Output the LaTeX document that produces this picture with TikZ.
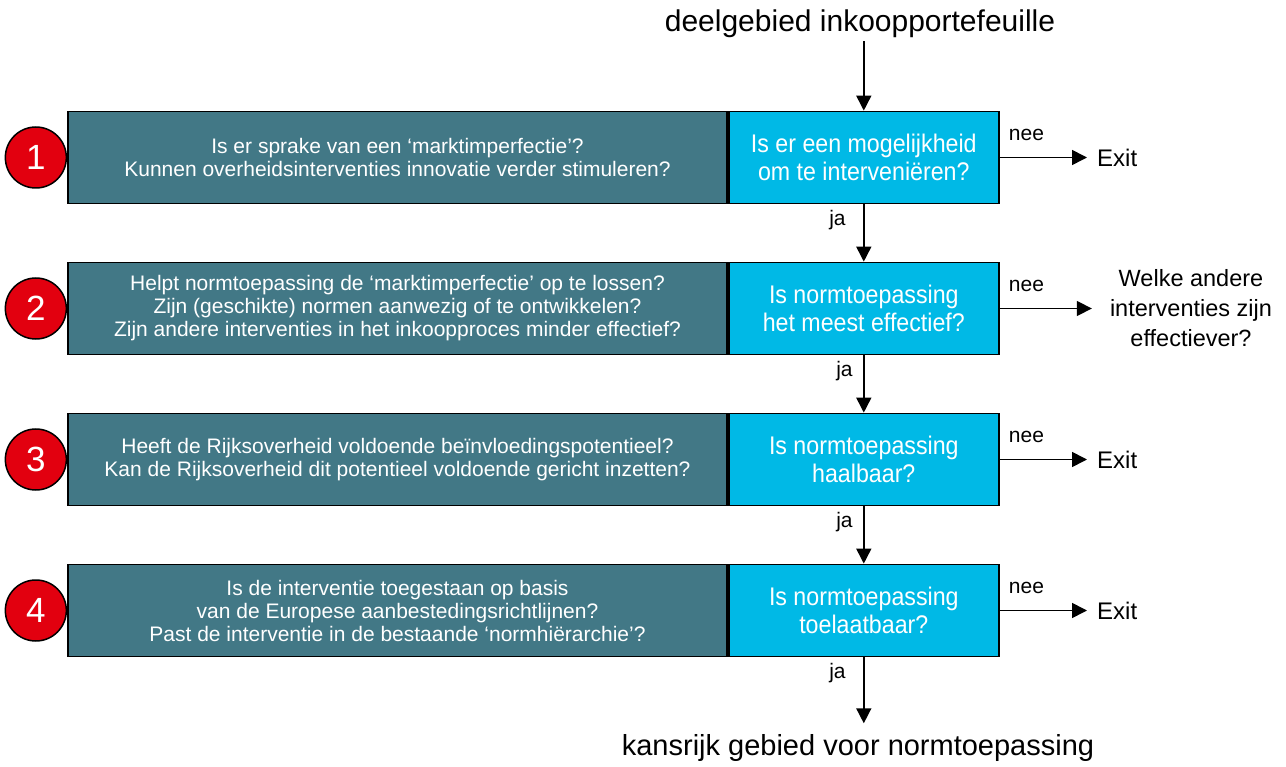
\documentclass[tikz,border=0pt]{standalone}
\usepackage{fontspec}
\setmainfont{Liberation Sans}
\newfontfamily\smalfont{Liberation Sans}[FakeStretch=0.91]
\usetikzlibrary{arrows.meta, positioning}
\definecolor{vraagkleur}{HTML}{427886}
\definecolor{keuzekleur}{HTML}{00B9E6}
\definecolor{stapkleur}{HTML}{E2000F}

\begin{document}
\begin{tikzpicture}[x=1pt, y=-1pt]
\tikzset{
  vraag/.style={draw=black, line width=1.8pt, fill=vraagkleur, text=white, minimum width=659pt, minimum height=92pt, inner sep=0pt, align=center, font=\fontsize{21}{23}\selectfont},
  keuze/.style={draw=black, line width=1.8pt, fill=keuzekleur, text=white, minimum width=270pt, minimum height=92pt, inner sep=0pt, align=center, font=\smalfont\fontsize{25.5}{28}\selectfont},
  stap/.style={circle, draw=black, line width=1.5pt, fill=stapkleur, minimum size=61pt, inner sep=0pt, text=white, font=\fontsize{35}{35}\selectfont},
  pijl/.style={line width=1.6pt, -{Triangle[length=15pt, width=15pt]}},
  keus/.style={inner sep=0pt, font=\fontsize{21}{21}\selectfont},
  uitgang/.style={inner sep=0pt, font=\fontsize{24}{24}\selectfont}
}
\useasboundingbox (0,0) rectangle (1286,767);

\node[inner sep=0pt, font=\fontsize{30}{30}\selectfont] (begin) at (860,24) {deelgebied inkoopportefeuille};

% stap 1
\node[vraag] (v1) at (397.5,157.5) {Is er sprake van een ‘marktimperfectie’?\\Kunnen overheidsinterventies innovatie verder stimuleren?};
\node[keuze, right=0pt of v1] (k1) {Is er een mogelijkheid\\om te interveniëren?};
\node[stap, left=0pt of v1] (s1) {1};
\node[uitgang, anchor=west] (exit1) at (1097,158) {Exit};

% stap 2
\node[vraag] (v2) at (397.5,308.5) {Helpt normtoepassing de ‘marktimperfectie’ op te lossen?\\Zijn (geschikte) normen aanwezig of te ontwikkelen?\\Zijn andere interventies in het inkoopproces minder effectief?};
\node[keuze, right=0pt of v2] (k2) {Is normtoepassing\\het meest effectief?};
\node[stap, left=0pt of v2] (s2) {2};
\node[inner sep=0pt, align=center, font=\fontsize{23.5}{30}\selectfont] (anders) at (1191,308) {Welke andere\\interventies zijn\\effectiever?};

% stap 3
\node[vraag] (v3) at (397.5,459.5) {Heeft de Rijksoverheid voldoende beïnvloedingspotentieel?\\Kan de Rijksoverheid dit potentieel voldoende gericht inzetten?};
\node[keuze, right=0pt of v3] (k3) {Is normtoepassing\\haalbaar?};
\node[stap, left=0pt of v3] (s3) {3};
\node[uitgang, anchor=west] (exit3) at (1097,460) {Exit};

% stap 4
\node[vraag] (v4) at (397.5,610.5) {Is de interventie toegestaan op basis\\van de Europese aanbestedingsrichtlijnen?\\Past de interventie in de bestaande ‘normhiërarchie’?};
\node[keuze, right=0pt of v4] (k4) {Is normtoepassing\\toelaatbaar?};
\node[stap, left=0pt of v4] (s4) {4};
\node[uitgang, anchor=west] (exit4) at (1097,611) {Exit};

\node[inner sep=0pt, font=\fontsize{29}{29}\selectfont] (eind) at (858,748) {kansrijk gebied voor normtoepassing};

% ja
\draw[pijl, shorten <=3pt] (k1.north |- begin.south) -- (k1.north);
\draw[pijl] (k1) -- (k2);
\draw[pijl] (k2) -- (k3);
\draw[pijl] (k3) -- (k4);
\draw[pijl, shorten >=11pt] (k4.south) -- (k4.south |- eind.north);
\node[keus, below left=6pt and 18pt of k1.south] (ja1) {ja};
\node[keus, below left=6pt and 11pt of k2.south] (ja2) {ja};
\node[keus, below left=6pt and 11pt of k3.south] (ja3) {ja};
\node[keus, below left=6pt and 18pt of k4.south] (ja4) {ja};

% nee
\draw[pijl, shorten >=10pt] (k1.east) -- (k1.east -| exit1.west);
\draw[pijl, shorten >=18pt] (k2.east) -- (k2.east -| anders.west);
\draw[pijl, shorten >=10pt] (k3.east) -- (k3.east -| exit3.west);
\draw[pijl, shorten >=10pt] (k4.east) -- (k4.east -| exit4.west);
\node[keus, above right=17pt and 9pt of k1.east] (nee1) {nee};
\node[keus, above right=17pt and 9pt of k2.east] (nee2) {nee};
\node[keus, above right=17pt and 9pt of k3.east] (nee3) {nee};
\node[keus, above right=17pt and 9pt of k4.east] (nee4) {nee};
\end{tikzpicture}
\end{document}
